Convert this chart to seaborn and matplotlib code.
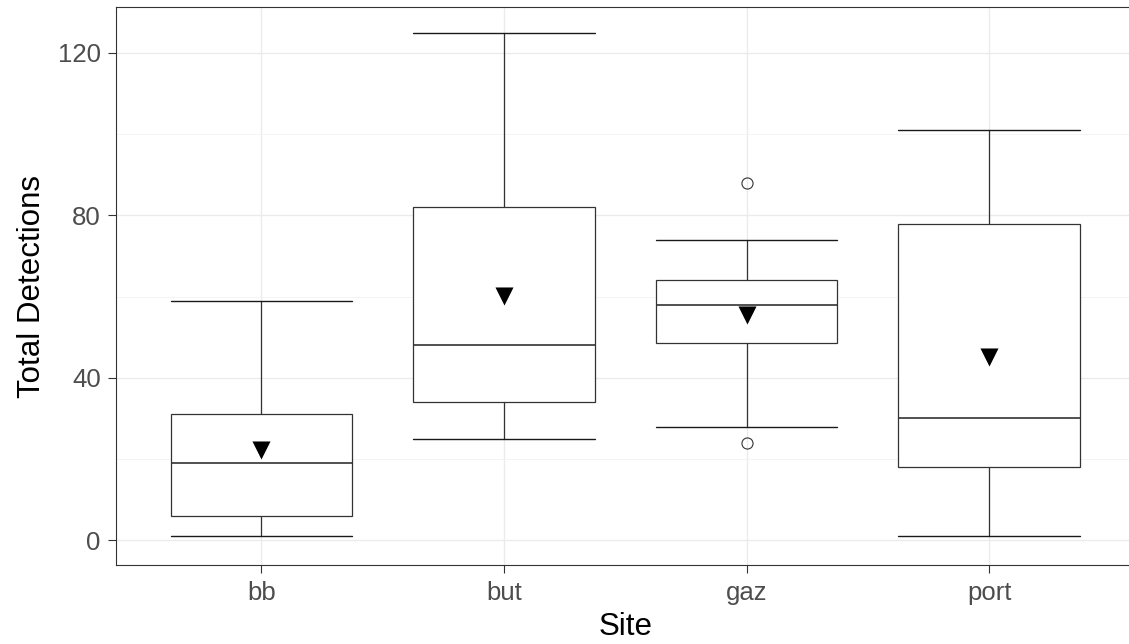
import matplotlib
matplotlib.use("Agg")
import matplotlib.pyplot as plt
import seaborn as sns
from matplotlib.ticker import MultipleLocator

# values
sites = ["bb", "but", "gaz", "port"]
whisker_low = [1, 25, 28, 1]
q1 = [6, 34, 48.5, 18]
median = [19, 48, 58, 30]
q3 = [31, 82, 64, 78]
whisker_high = [59, 125, 74, 101]
outliers = [[], [], [88, 24], []]
means = [22.2, 60.1, 55.4, 45.1]

sns.set_theme(style="white")
plt.rcParams["font.family"] = ["Liberation Sans", "DejaVu Sans"]

fig = plt.figure(figsize=(11.29, 6.44), dpi=100)
ax = fig.add_axes([0.1027, 0.1219, 0.9022, 0.8672])

stats = []
for i, s in enumerate(sites):
    stats.append({
        "label": s, "med": median[i], "q1": q1[i], "q3": q3[i],
        "whislo": whisker_low[i], "whishi": whisker_high[i],
        "fliers": outliers[i],
    })

line = dict(color="#333333", linewidth=0.9)
ax.bxp(stats, positions=range(len(sites)), widths=0.75, capwidths=0.75,
       patch_artist=True,
       boxprops=dict(facecolor="white", edgecolor="#333333", linewidth=0.9),
       medianprops=dict(color="#333333", linewidth=1.2),
       whiskerprops=line, capprops=dict(color="#1a1a1a", linewidth=1.0),
       flierprops=dict(marker="o", markerfacecolor="none",
                       markeredgecolor="#333333", markersize=8,
                       markeredgewidth=0.8),
       zorder=3)

# mean markers
sns.stripplot(x=sites, y=means, jitter=False, marker="v", size=13,
              color="black", ax=ax, zorder=4)

ax.set_xlim(-0.6, 3.6)
ax.set_ylim(-6.2, 131.3)
ax.yaxis.set_major_locator(MultipleLocator(40))
ax.yaxis.set_minor_locator(MultipleLocator(20))
ax.grid(True, which="major", color="#EBEBEB", linewidth=1.0, zorder=0)
ax.grid(True, which="minor", axis="y", color="#F3F3F3", linewidth=0.6, zorder=0)
ax.set_axisbelow(True)

for sp in ax.spines.values():
    sp.set_color("#333333")
    sp.set_linewidth(0.8)

ax.tick_params(axis="both", which="major", length=6, width=0.8,
               color="#333333", labelsize=18.5, labelcolor="#4D4D4D",
               left=True, bottom=True)
ax.tick_params(axis="y", which="major", pad=5)
ax.tick_params(axis="x", which="major", pad=5)
ax.tick_params(axis="y", which="minor", length=0)
ax.set_xticks(range(len(sites)))
ax.set_xticklabels(sites)

ax.set_xlabel("Site", fontsize=22.5, color="black", labelpad=5)
ax.set_ylabel("Total Detections", fontsize=22.5, color="black", labelpad=8)

fig.savefig("out.png", dpi=100)
